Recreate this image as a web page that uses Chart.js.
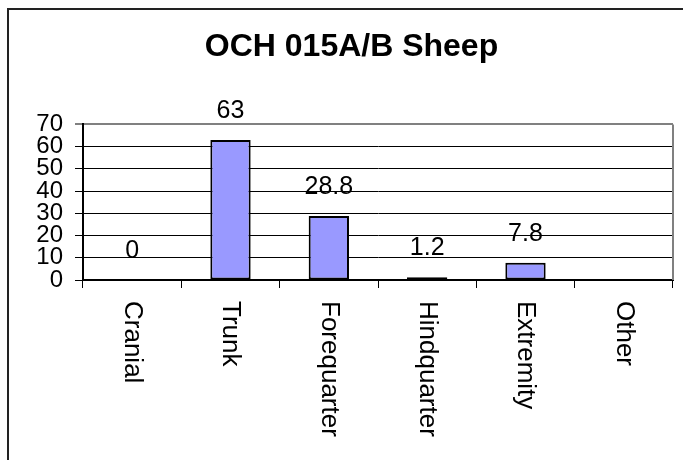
<!DOCTYPE html>
<html>
<head>
<meta charset="utf-8">
<script src="https://cdn.jsdelivr.net/npm/chart.js@4/dist/chart.umd.min.js"></script>
<style>
  html, body { margin: 0; padding: 0; background: #fff; }
  #wrap { width: 683px; height: 460px; }
</style>
</head>
<body>
<div id="wrap"><canvas id="sheep" width="683" height="460"></canvas></div>
<script>
var chartTitle = "OCH 015A/B Sheep";
var regions = ["Cranial", "Trunk", "Forequarter", "Hindquarter", "Extremity", "Other"];
var percentValues = [0, 63, 28.8, 1.2, 7.8, null];
var yTicks = [0, 10, 20, 30, 40, 50, 60, 70];

var fontName = "'Liberation Sans', Arial, sans-serif";

// outer frame (only top and left edges show in the picture)
var framePlugin = {
  id: "frame",
  beforeDraw: function (chart) {
    let c = chart.ctx;
    c.save();
    c.fillStyle = "#fff";
    c.fillRect(0, 0, chart.width, chart.height);
    c.strokeStyle = "#222";
    c.lineWidth = 2;
    c.beginPath();
    c.moveTo(8, chart.height);
    c.lineTo(8, 9);
    c.lineTo(chart.width, 9);
    c.stroke();
    c.restore();
  },
  beforeDatasetsDraw: function (chart) {
    // grey right edge of the plot area
    let a = chart.chartArea, c = chart.ctx;
    c.save();
    c.strokeStyle = "#808080";
    c.lineWidth = 2;
    c.beginPath();
    c.moveTo(a.right, a.top);
    c.lineTo(a.right, a.bottom);
    c.stroke();
    c.restore();
  },
};

// value labels above bars + x labels rotated clockwise
var labelPlugin = {
  id: "labels",
  afterDatasetsDraw: function (chart) {
    let c = chart.ctx;
    let meta = chart.getDatasetMeta(0);
    c.save();
    c.fillStyle = "#000";
    c.font = "25px " + fontName;
    c.textAlign = "center";
    c.textBaseline = "middle";
    meta.data.forEach(function (bar, i) {
      let v = percentValues[i];
      if (v === null) return;
      c.fillText(String(v), bar.x, bar.y - 29);
    });
    let xs = chart.scales.x;
    c.font = "26px " + fontName;
    regions.forEach(function (name, i) {
      let x = xs.getPixelForValue(i);
      c.save();
      c.translate(x, chart.chartArea.bottom + 21);
      c.rotate(Math.PI / 2);
      c.textAlign = "left";
      c.textBaseline = "middle";
      c.fillText(name, 0, 0);
      c.restore();
    });
    c.restore();
  },
};

let ctx = document.getElementById("sheep").getContext("2d");

let chart = new Chart(ctx, {
  type: "bar",
  data: {
    labels: regions,
    datasets: [
      {
        label: chartTitle,
        data: percentValues,
        backgroundColor: "#9999FF",
        borderColor: "#000",
        borderWidth: 2,
        borderSkipped: false,
        barPercentage: 0.41,
        categoryPercentage: 1.0,
      },
    ],
  },
  options: {
    responsive: false,
    animation: false,
    layout: { padding: { left: 30, right: 10, top: 0, bottom: 172 } },
    plugins: {
      legend: { display: false },
      tooltip: { enabled: false },
      title: {
        display: true,
        text: chartTitle,
        color: "#000",
        font: { family: fontName, size: 32, weight: "bold" },
        padding: { top: 28, bottom: 58 },
      },
    },
    scales: {
      x: {
        offset: true,
        grid: {
          offset: true,
          drawOnChartArea: false,
          drawTicks: true,
          tickLength: 8,
          color: "#000",
        },
        border: { color: "#000", width: 2 },
        ticks: { display: false },
      },
      y: {
        min: 0,
        max: 70,
        afterBuildTicks: function (scale) {
          scale.ticks = yTicks.map(function (v) { return { value: v }; });
        },
        afterFit: function (scale) { scale.width = 53; },
        grid: {
          color: function (c) { return c.tick && c.tick.value === 70 ? "#808080" : "#000"; },
          lineWidth: function (c) { return c.tick && c.tick.value === 70 ? 2 : 1; },
          tickLength: 8,
        },
        border: { color: "#000", width: 2 },
        ticks: {
          autoSkip: false,
          color: "#000",
          padding: 12,
          font: { family: fontName, size: 24, lineHeight: 1 },
        },
      },
    },
  },
  plugins: [framePlugin, labelPlugin],
});
</script>
</body>
</html>
